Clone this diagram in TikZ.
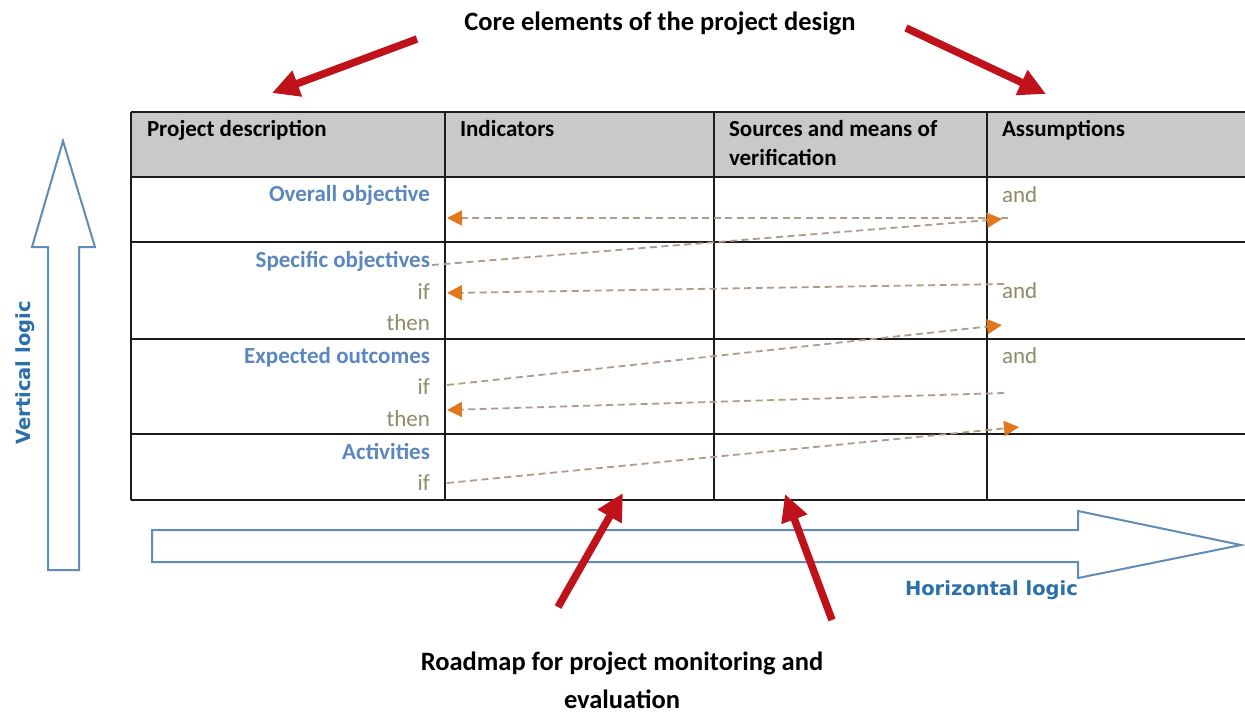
\documentclass[tikz,border=0pt]{standalone}
\usepackage{fontspec}
\setmainfont{Carlito}
\newfontfamily\logicfont{DejaVu Sans}
\usetikzlibrary{arrows.meta}
\definecolor{hdrgray}{HTML}{C9C9C9}
\definecolor{lblblue}{HTML}{5A87C0}
\definecolor{olivegray}{HTML}{8C8C6C}
\definecolor{logicblue}{HTML}{2B70AA}
\definecolor{arrblue}{HTML}{5F8DB8}
\definecolor{darkred}{HTML}{C0121A}
\definecolor{dashcol}{HTML}{AE9C88}
\definecolor{tiporange}{HTML}{E2781E}
\definecolor{tableline}{HTML}{1C1C1C}
\begin{document}
\begin{tikzpicture}[x=1pt,y=-1pt,
  every node/.style={inner sep=0pt,outer sep=0pt},
  hdrtext/.style={font=\fontsize{23}{28}\selectfont\bfseries, text=black, anchor=base west},
  lbltext/.style={font=\fontsize{23}{28}\selectfont\bfseries, text=lblblue, anchor=base east},
  iftext/.style={font=\fontsize{23}{28}\selectfont, text=olivegray, anchor=base east},
  andtext/.style={font=\fontsize{23}{28}\selectfont, text=olivegray, anchor=base west},
  titletext/.style={font=\fontsize{26.5}{32}\selectfont\bfseries, text=black, anchor=base},
  logictext/.style={font=\logicfont\fontsize{19.5}{23}\selectfont\bfseries, text=logicblue},
  tline/.style={draw=tableline, line width=1.8pt},
  dasharrow/.style={draw=dashcol, line width=1.8pt, dash pattern=on 7pt off 4.5pt,
     -{Triangle[length=15pt,width=15pt,color=tiporange]}},
  redarrow/.style={draw=darkred, line width=7.5pt, -{Triangle[length=27pt,width=26pt]}},
  hollow/.style={draw=arrblue, line width=2pt, fill=white, line join=miter}
]
\useasboundingbox (0,0) rectangle (1245,713);
\fill[white] (0,0) rectangle (1245,713);

% header fill
\fill[hdrgray] (131,112) rectangle (1245,177);
% table lines
\draw[tline] (131,112) -- (1245,112);
\draw[tline] (131,177) -- (1245,177);
\draw[tline] (131,242) -- (1245,242);
\draw[tline] (131,339) -- (1245,339);
\draw[tline] (131,434) -- (1245,434);
\draw[tline] (131,500) -- (1245,500);
\draw[tline] (131,112) -- (131,500);
\draw[tline] (445,112) -- (445,500);
\draw[tline] (714,112) -- (714,500);
\draw[tline] (987,112) -- (987,500);

% header texts
\node[hdrtext] (h1) at (147,136) {Project description};
\node[hdrtext] (h2) at (460,136) {Indicators};
\node[hdrtext] (h3a) at (729,136) {Sources and means of};
\node[hdrtext] (h3b) at (729,165) {verification};
\node[hdrtext] (h4) at (1002,136) {Assumptions};

% left column
\node[lbltext] (oo) at (430,201) {Overall objective};
\node[lbltext] (so) at (430,267) {Specific objectives};
\node[iftext] (soif) at (430,299) {if};
\node[iftext] (sothen) at (430,330) {then};
\node[lbltext] (eo) at (430,363) {Expected outcomes};
\node[iftext] (eoif) at (430,394) {if};
\node[iftext] (eothen) at (430,426) {then};
\node[lbltext] (ac) at (430,459) {Activities};
\node[iftext] (acif) at (430,490) {if};

% assumptions column
\node[andtext] (and1) at (1002,202) {and};
\node[andtext] (and2) at (1002,298) {and};
\node[andtext] (and3) at (1002,363) {and};

% dashed connector end points
\coordinate (a1s) at (1008,218);
\coordinate (a1e) at (447,218);
\coordinate (a2s) at (432,265);
\coordinate (a2e) at (1002,219);
\coordinate (a3s) at (1004,284);
\coordinate (a3e) at (447,293);
\coordinate (a4s) at (447,385);
\coordinate (a4e) at (1002,325);
\coordinate (a5s) at (1004,393);
\coordinate (a5e) at (447,410);
\coordinate (a6s) at (447,483);
\coordinate (a6e) at (1019,427);

\draw[dasharrow] (a1s) -- (a1e);
\draw[dasharrow] (a2s) -- (a2e);
\draw[dasharrow] (a3s) -- (a3e);
\draw[dasharrow] (a4s) -- (a4e);
\draw[dasharrow] (a5s) -- (a5e);
\draw[dasharrow] (a6s) -- (a6e);

% hollow blue arrows
\draw[hollow] (48,570) -- (48,247) -- (32,247) -- (63,141) -- (95,247) -- (79,247) -- (79,570) -- cycle;
\draw[hollow] (152,530) -- (1078,530) -- (1078,511) -- (1241,545) -- (1078,578) -- (1078,562) -- (152,562) -- cycle;

\node[logictext, rotate=90] (vl) at (25,373) {Vertical logic};
\node[logictext, anchor=base west] (hl) at (905,595) {Horizontal logic};

% titles
\node[titletext] (core) at (660,30) {Core elements of the project design};
\node[titletext] (road1) at (622,670) {Roadmap for project monitoring and};
\node[titletext] (road2) at (622,708) {evaluation};

% red arrows
\coordinate (r1s) at (417,39);
\coordinate (r1e) at (272,93);
\coordinate (r2s) at (906,28);
\coordinate (r2e) at (1046,94);
\coordinate (r3s) at (558,607);
\coordinate (r3e) at (623,493);
\coordinate (r4s) at (832,620);
\coordinate (r4e) at (785,494);
\draw[redarrow] (r1s) -- (r1e);
\draw[redarrow] (r2s) -- (r2e);
\draw[redarrow] (r3s) -- (r3e);
\draw[redarrow] (r4s) -- (r4e);
\end{tikzpicture}
\end{document}
